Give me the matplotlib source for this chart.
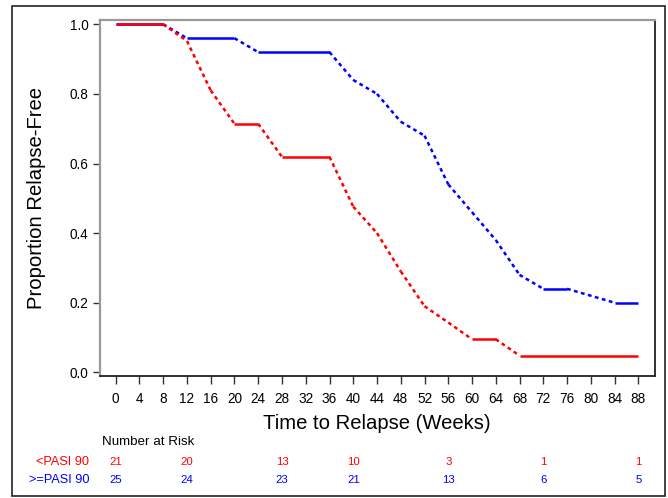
import matplotlib
matplotlib.use("Agg")
import matplotlib.pyplot as plt
from matplotlib.patches import Rectangle

plt.rcParams['font.family'] = ['Liberation Sans', 'DejaVu Sans']

# Data
weeks_red = [0, 8, 12, 16, 20, 24, 28, 36, 40, 44, 48, 52, 56, 60, 64, 68, 88]
surv_red = [1.0, 1.0, 0.952, 0.81, 0.714, 0.714, 0.619, 0.619, 0.476, 0.40,
            0.29, 0.19, 0.143, 0.095, 0.095, 0.048, 0.048]
weeks_blue = [0, 8, 12, 20, 24, 36, 40, 44, 48, 52, 56, 60, 64, 68, 72, 76, 84, 88]
surv_blue = [1.0, 1.0, 0.96, 0.96, 0.92, 0.92, 0.84, 0.80, 0.72, 0.68, 0.54,
             0.46, 0.38, 0.28, 0.24, 0.24, 0.20, 0.20]
group_labels = ['<PASI 90', '>=PASI 90']
risk_weeks = [0, 12, 28, 40, 56, 72, 88]
risk_red = [21, 20, 13, 10, 3, 1, 1]
risk_blue = [25, 24, 23, 21, 13, 6, 5]
xticks = list(range(0, 89, 4))
yticks = [0.0, 0.2, 0.4, 0.6, 0.8, 1.0]

RED = '#FF0000'
BLUE = '#0000FF'

fig = plt.figure(figsize=(6.68, 4.98), dpi=100)
ax = fig.add_axes([99.5 / 668, 1 - 376.3 / 498, (654.7 - 99.5) / 668, (376.3 - 20) / 498])

def draw_curve(ts, ss, color):
    for i in range(len(ts) - 1):
        if ss[i] == ss[i + 1]:
            ax.plot([ts[i], ts[i + 1]], [ss[i], ss[i + 1]], color=color, lw=1.8,
                    solid_capstyle='butt')
        else:
            ax.plot([ts[i], ts[i + 1]], [ss[i], ss[i + 1]], color=color, lw=1.8,
                    linestyle=(0, (1.5, 1.4)), dash_capstyle='butt')

draw_curve(weeks_blue, surv_blue, BLUE)
draw_curve(weeks_red, surv_red, RED)

ax.set_xlim(-2.73, 90.76)
ax.set_ylim(-0.0115, 1.0124)
ax.set_xticks(xticks)
ax.set_yticks(yticks)
ax.set_yticklabels([f'{v:.1f}' for v in yticks])
ax.tick_params(axis='both', direction='out', length=5, width=1, labelsize=9.8,
               color='#333333', pad=3)
ax.tick_params(axis='x', length=6, pad=5)

ax.spines['top'].set_color('#999999')
ax.spines['left'].set_color('#999999')
ax.spines['top'].set_linewidth(1.6)
ax.spines['left'].set_linewidth(1.6)
ax.spines['bottom'].set_color('#222222')
ax.spines['right'].set_color('#222222')
ax.spines['bottom'].set_linewidth(1.3)
ax.spines['right'].set_linewidth(1.3)

ax.set_xlabel('Time to Relapse (Weeks)', fontsize=14.6)
ax.set_ylabel('Proportion Relapse-Free', fontsize=14.6)
ax.xaxis.set_label_coords(0.5, (376.3 - 414) / 356.3)
ax.yaxis.set_label_coords((46.5 - 99.5) / 555.2, 0.5)

# Number at risk table
tr = ax.get_xaxis_transform()
fig.text(102 / 668, 1 - 442 / 498, 'Number at Risk', fontsize=9.6, ha='left', va='center')
fig.text(89.5 / 668, 1 - 462 / 498, group_labels[0], fontsize=9.2, ha='right', va='center', color=RED)
fig.text(89.5 / 668, 1 - 480 / 498, group_labels[1], fontsize=9.2, ha='right', va='center', color=BLUE)
for w, r, b in zip(risk_weeks, risk_red, risk_blue):
    ax.text(w, (376.3 - 462) / 356.3, str(r), transform=tr, fontsize=8.2, ha='center',
            va='center', color=RED, clip_on=False)
    ax.text(w, (376.3 - 480) / 356.3, str(b), transform=tr, fontsize=8.2, ha='center',
            va='center', color=BLUE, clip_on=False)

# Outer frame
fig.patches.append(Rectangle((12 / 668, 1 - 496 / 498), (665 - 12) / 668, (496 - 6) / 498,
                             transform=fig.transFigure, fill=False, edgecolor='#222222',
                             lw=1.2))

fig.savefig('out.png', dpi=100)
